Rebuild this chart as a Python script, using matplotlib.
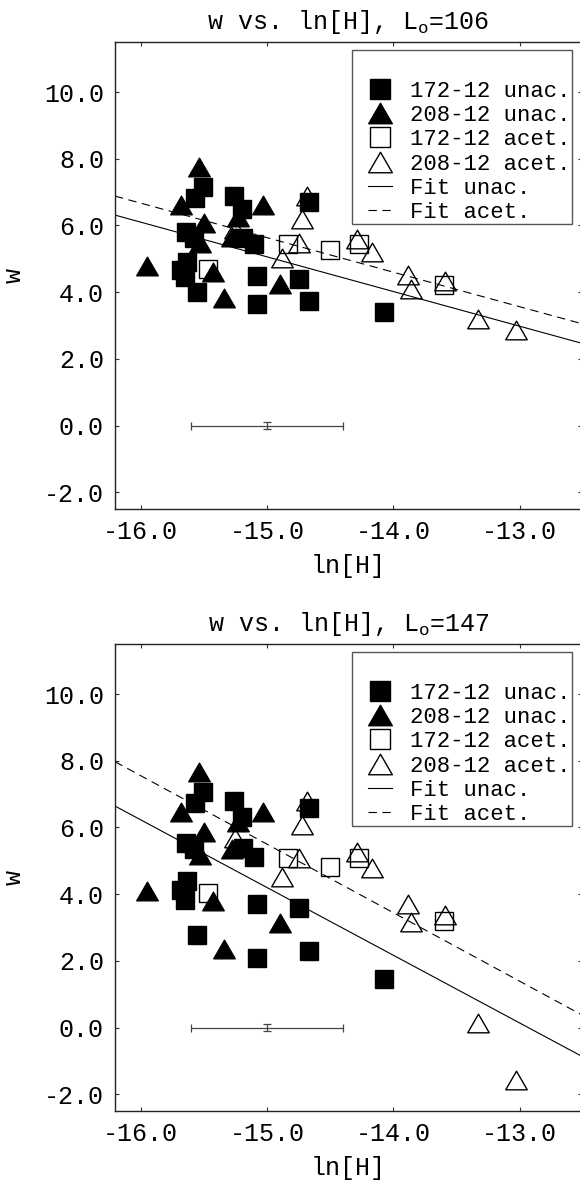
"""Redraw w against ln[H] for the unacetylated and acetylated samples at two L_o."""

import matplotlib

matplotlib.use("Agg")
import matplotlib.pyplot as plt
from matplotlib.lines import Line2D
from matplotlib.patches import Rectangle
from matplotlib.path import Path
from matplotlib.ticker import FormatStrFormatter
import numpy as np


# ln[H] per sample, shared by both panels; w per sample for L_o = 106 and 147
LN_H_172_UNAC = [-15.51, -15.57, -15.26, -15.20, -14.67, -15.64, -15.58, -15.19, -15.10,
                 -15.63, -15.68, -15.65, -15.55, -15.08, -15.08, -14.75, -14.67, -14.07]
W_172_UNAC_106 = [7.16, 6.83, 6.88, 6.48, 6.70, 5.80, 5.62, 5.63, 5.45,
                  4.89, 4.67, 4.47, 4.00, 4.50, 3.64, 4.41, 3.75, 3.40]
W_172_UNAC_147 = [7.05, 6.72, 6.79, 6.30, 6.57, 5.52, 5.35, 5.37, 5.12,
                  4.39, 4.12, 3.82, 2.78, 3.72, 2.08, 3.60, 2.30, 1.45]

LN_H_208_UNAC = [-15.54, -15.68, -15.03, -15.50, -15.53, -15.28, -15.23, -15.95, -15.43, -15.34, -14.90]
W_208_UNAC_106 = [7.76, 6.60, 6.60, 6.08, 5.48, 5.66, 6.26, 4.77, 4.60, 3.84, 4.26]
W_208_UNAC_147 = [7.66, 6.47, 6.47, 5.87, 5.17, 5.34, 6.17, 4.09, 3.79, 2.35, 3.14]

LN_H_172_ACET = [-15.47, -14.83, -14.50, -14.27, -13.60]
W_172_ACET_106 = [4.70, 5.43, 5.26, 5.43, 4.23]
W_172_ACET_147 = [4.05, 5.09, 4.82, 5.07, 3.19]

LN_H_208_ACET = [-14.68, -14.72, -14.75, -15.25, -14.88, -14.29, -14.17, -13.88, -13.86, -13.59, -13.33, -13.03]
W_208_ACET_106 = [6.88, 6.20, 5.46, 5.88, 5.03, 5.60, 5.19, 4.52, 4.10, 4.33, 3.20, 2.87]
W_208_ACET_147 = [6.80, 6.07, 5.07, 5.67, 4.52, 5.27, 4.77, 3.72, 3.17, 3.39, 0.15, -1.57]

L_O_VALUES = [106, 147]
FIT_UNAC_SLOPE = [-1.04, -2.03]
FIT_UNAC_INTERCEPT = [-10.54, -26.25]
FIT_ACET_SLOPE = [-1.035, -2.054]
FIT_ACET_INTERCEPT = [-9.89, -25.31]

# typical uncertainty shown as a lone error bar
ERR_LN_H = -15.0
ERR_W = 0.0
ERR_LN_H_SIZE = 0.6
ERR_W_SIZE = 0.1

X_TICKS = [-16.0, -15.0, -14.0, -13.0]
Y_TICKS = [-2.0, 0.0, 2.0, 4.0, 6.0, 8.0, 10.0]
LEGEND_LABELS = ["172-12 unac.", "208-12 unac.", "172-12 acet.", "208-12 acet.", "Fit unac.", "Fit acet."]

XLIM = (-16.203, -12.51)
YLIM = (-2.5, 11.5)

plt.rcParams["font.family"] = ["Liberation Mono", "DejaVu Sans"]
plt.rcParams["mathtext.fontset"] = "custom"
plt.rcParams["mathtext.rm"] = "Liberation Mono"
plt.rcParams["lines.scale_dashes"] = False

FONT_SIZE = 18
LEGEND_FONT_SIZE = 16
TRIANGLE = Path([(-1.0, -0.866), (1.0, -0.866), (0.0, 0.866), (0.0, 0.0)], closed=True)
SQUARE_SIZE = 12.5
TRIANGLE_SIZE = 15.5
DASHES = (6, 4)


def _draw_panel(axis, panel: int) -> None:
    w_by_series = [
        (W_172_UNAC_106, W_172_UNAC_147),
        (W_208_UNAC_106, W_208_UNAC_147),
        (W_172_ACET_106, W_172_ACET_147),
        (W_208_ACET_106, W_208_ACET_147),
    ]
    ln_h_by_series = [LN_H_172_UNAC, LN_H_208_UNAC, LN_H_172_ACET, LN_H_208_ACET]
    styles = [
        dict(marker="s", ms=SQUARE_SIZE, mfc="black", mec="black"),
        dict(marker=TRIANGLE, ms=TRIANGLE_SIZE, mfc="black", mec="black"),
        dict(marker="s", ms=SQUARE_SIZE, mfc="none", mec="black"),
        dict(marker=TRIANGLE, ms=TRIANGLE_SIZE, mfc="none", mec="black"),
    ]

    line_x = np.array(XLIM)
    axis.plot(line_x, FIT_UNAC_INTERCEPT[panel] + FIT_UNAC_SLOPE[panel] * line_x,
              color="black", linewidth=0.8, zorder=2)
    axis.plot(line_x, FIT_ACET_INTERCEPT[panel] + FIT_ACET_SLOPE[panel] * line_x,
              color="black", linewidth=0.8, dashes=DASHES, zorder=2)

    for ln_h, w_pair, style in zip(ln_h_by_series, w_by_series, styles):
        axis.plot(ln_h, w_pair[panel], linestyle="none", mew=1.0, zorder=3, **style)

    axis.errorbar([ERR_LN_H], [ERR_W], xerr=[ERR_LN_H_SIZE], yerr=[ERR_W_SIZE], fmt="none",
                  ecolor="#444444", elinewidth=0.9, capsize=3, capthick=0.9, zorder=2)

    axis.set_xlim(*XLIM)
    axis.set_ylim(*YLIM)
    axis.set_xticks(X_TICKS)
    axis.set_yticks(Y_TICKS)
    axis.xaxis.set_major_formatter(FormatStrFormatter("%.1f"))
    axis.yaxis.set_major_formatter(FormatStrFormatter("%.1f"))
    axis.tick_params(direction="in", length=3, width=0.8, pad=8, labelsize=FONT_SIZE,
                     top=True, right=True, color="#333333")
    for side in ("left", "bottom", "top"):
        axis.spines[side].set_linewidth(1.0)
        axis.spines[side].set_color("#222222")
    axis.spines["right"].set_visible(False)

    axis.set_xlabel("ln[H]", fontsize=FONT_SIZE, labelpad=7)
    axis.set_ylabel("w", fontsize=FONT_SIZE, labelpad=13)
    axis.set_title(r"w vs. ln[H], L$_{\mathregular{o}}$=" + str(L_O_VALUES[panel]),
                   fontsize=FONT_SIZE, pad=9)

    # legend frame drawn by hand: Mathematica-style box with an empty first row
    axis.add_patch(Rectangle((0.5087, 0.6096), 0.4716, 0.3733, transform=axis.transAxes,
                             fill=False, edgecolor="#555555", linewidth=1.0, zorder=5))
    handles = [
        Line2D([], [], linestyle="none", mew=1.0, **style) for style in styles
    ] + [
        Line2D([], [], color="black", linewidth=0.8),
        Line2D([], [], color="black", linewidth=0.8, dashes=DASHES),
    ]
    axis.legend(handles, LEGEND_LABELS, loc="upper left", bbox_to_anchor=(0.5423, 0.9175),
                frameon=False, borderpad=0, borderaxespad=0, handlelength=1.1,
                handletextpad=0.8, labelspacing=0.15, markerscale=1.1, fontsize=LEGEND_FONT_SIZE)


def main() -> None:
    figure = plt.figure(figsize=(5.8, 11.8), dpi=100)
    axes_top = figure.add_axes([115 / 580, 1 - 509 / 1180, 466.5 / 580, 467 / 1180])
    axes_bottom = figure.add_axes([115 / 580, 1 - 1111 / 1180, 466.5 / 580, 467 / 1180])
    for panel, axis in enumerate((axes_top, axes_bottom)):
        _draw_panel(axis, panel)
    figure.savefig("out.png", dpi=100)
    plt.close(figure)


if __name__ == "__main__":
    main()
